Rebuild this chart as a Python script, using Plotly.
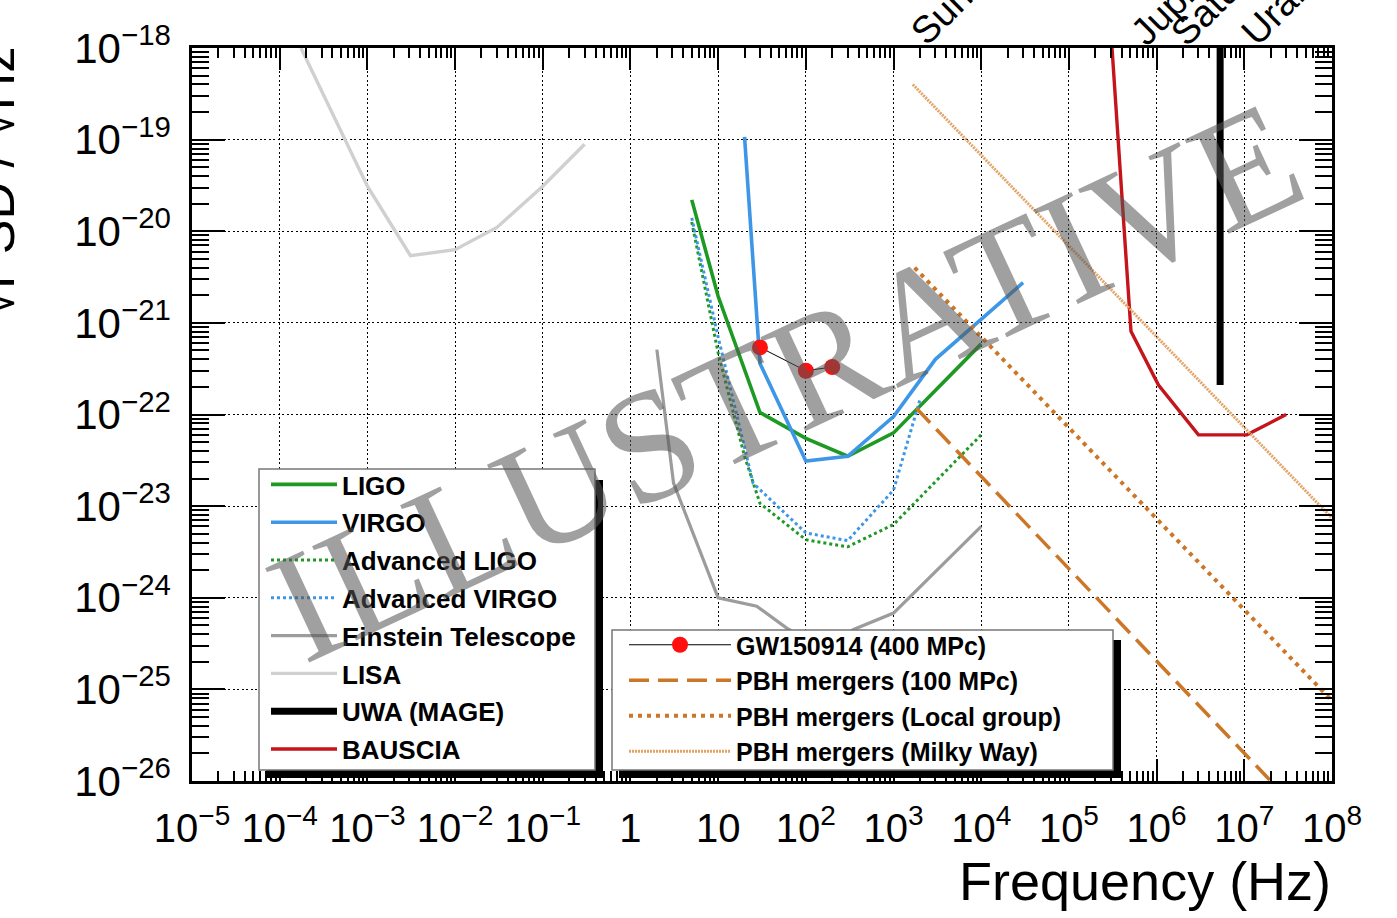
import plotly.graph_objects as go

# ---------------- data (frequency in Hz, sqrt(PSD) in 1/sqrt(Hz)) ----------------
lisa_f = [1.75e-4, 1e-3, 3.1e-3, 1e-2, 3e-2, 0.1, 0.3]
lisa_h = [1.0e-18, 3.1e-20, 5.4e-21, 6.3e-21, 1.1e-20, 3.1e-20, 8.9e-20]

ligo_f = [5, 10, 30, 100, 300, 1000, 10000]
ligo_h = [2.2e-20, 1.95e-21, 1.05e-22, 5.5e-23, 3.5e-23, 6.3e-23, 5.9e-22]

virgo_f = [20, 30, 100, 300, 1000, 3000, 30000]
virgo_h = [1.07e-19, 3.6e-22, 3.1e-23, 3.5e-23, 9.5e-23, 4.0e-22, 2.75e-21]

aligo_f = [5, 10, 20, 30, 100, 300, 1000, 10000]
aligo_h = [1.26e-20, 4.7e-22, 3.5e-23, 1.07e-23, 4.3e-24, 3.6e-24, 6.3e-24, 6.0e-23]

avirgo_f = [5, 10, 25, 100, 300, 1000, 2000]
avirgo_h = [1.4e-20, 7.0e-22, 1.78e-23, 5.1e-24, 4.2e-24, 1.5e-23, 1.45e-22]

et_f = [2, 3.1, 10, 27.5, 60, 150, 350, 1000, 10000]
et_h = [5.1e-22, 1.78e-23, 1.0e-24, 8.1e-25, 4.7e-25, 2.8e-25, 4.5e-25, 6.8e-25, 6.0e-24]

uwa_f = [5.3e6, 5.3e6]
uwa_h = [1.0e-18, 2.1e-22]

bauscia_f = [3.1e5, 5.1e5, 1.05e6, 3.0e6, 1.07e7, 3.0e7]
bauscia_h = [1.0e-18, 8.1e-22, 2.1e-22, 6.0e-23, 6.0e-23, 1.0e-22]

gw_f = [30, 100, 200]
gw_h = [5.4e-22, 3.0e-22, 3.3e-22]

pbh100_f = [1.82e3, 2.0e7]
pbh100_h = [1.17e-22, 1.0e-26]

pbhlg_f = [1.74e3, 9.5e7]
pbhlg_h = [4.0e-21, 7.9e-26]

pbhmw_f = [1.66e3, 1.0e8]
pbhmw_h = [4.0e-19, 7.4e-24]

x_tickvals = [10.0 ** k for k in range(-5, 9)]
x_ticktext = ["10<sup>\u22125</sup>", "10<sup>\u22124</sup>", "10<sup>\u22123</sup>",
              "10<sup>\u22122</sup>", "10<sup>\u22121</sup>", "1", "10",
              "10<sup>2</sup>", "10<sup>3</sup>", "10<sup>4</sup>", "10<sup>5</sup>",
              "10<sup>6</sup>", "10<sup>7</sup>", "10<sup>8</sup>"]
y_tickvals = [10.0 ** k for k in range(-26, -17)]
y_ticktext = ["10<sup>\u2212%d</sup>" % (-k) for k in range(-26, -17)]

planet_labels = ["Sun", "Jupiter", "Saturn", "Uranus"]

# ---------------- styling ----------------
GREEN = "#1e9a24"
BLUE = "#3d97e6"
ORANGE = "#cc7628"
FONT = "Liberation Sans"

W, H = 1397, 918
ML, MR, MT, MB = 192, 65, 48, 137
PW, PH = W - ML - MR, H - MT - MB


def px(x):
    return (x - ML) / PW


def py(y):
    return (H - MB - y) / PH


fig = go.Figure()


def add(name, f, h, color, width, dash="solid", legend="legend", mode="lines", marker=None):
    fig.add_trace(go.Scatter(
        x=f, y=h, name=name, mode=mode,
        line=dict(color=color, width=width, dash=dash),
        marker=marker, legend=legend, legendgroup=name,
        hoverinfo="skip"))


add("LIGO", ligo_f, ligo_h, GREEN, 3.6)
add("VIRGO", virgo_f, virgo_h, BLUE, 3.6)
add("Advanced LIGO", aligo_f, aligo_h, GREEN, 3, dash="3px,3px")
add("Advanced VIRGO", avirgo_f, avirgo_h, BLUE, 3, dash="3px,3px")
add("Einstein Telescope", et_f, et_h, "#9c9c9c", 3.2)
add("LISA", lisa_f, lisa_h, "#d0d0d0", 3.4)
add("UWA (MAGE)", uwa_f, uwa_h, "black", 7)
add("BAUSCIA", bauscia_f, bauscia_h, "#c4141c", 3.4)

add("GW150914 (400 MPc)", gw_f, gw_h, "black", 1, legend="legend2", mode="lines+markers",
    marker=dict(color="#ff1010", size=16, line=dict(width=0)))
add("PBH mergers (100 MPc)", pbh100_f, pbh100_h, ORANGE, 3.5, dash="20px,9px", legend="legend2")
add("PBH mergers (Local group)", pbhlg_f, pbhlg_h, ORANGE, 4, dash="4px,5px", legend="legend2")
add("PBH mergers (Milky Way)", pbhmw_f, pbhmw_h, "#e3a468", 3, dash="2px,1px", legend="legend2")

axis_common = dict(
    type="log", showline=True, linecolor="black", linewidth=2.5, mirror="allticks",
    ticks="inside", tickcolor="black", tickwidth=1.5,
    showgrid=True, gridcolor="black", gridwidth=1.2, griddash="2px,2.5px",
    zeroline=False, automargin=False, tickmode="array",
    ticklabelstandoff=10,
)

x_minor = [m * 10.0 ** k for k in range(-5, 8) for m in range(2, 10)]
y_minor = [m * 10.0 ** k for k in range(-26, -18) for m in range(2, 10)]

fig.update_xaxes(range=[-5, 8], tickvals=x_tickvals, ticktext=x_ticktext, ticklen=22,
                 tickfont=dict(family=FONT, size=40, color="black"),
                 minor=dict(tickmode="array", tickvals=x_minor, ticks="inside", ticklen=10,
                            tickwidth=1.5, tickcolor="black", showgrid=False),
                 **axis_common)
fig.update_yaxes(range=[-26, -18], tickvals=y_tickvals, ticktext=y_ticktext, ticklen=33,
                 tickfont=dict(family=FONT, size=42, color="black"),
                 minor=dict(tickmode="array", tickvals=y_minor, ticks="inside", ticklen=17,
                            tickwidth=1.5, tickcolor="black", showgrid=False),
                 **axis_common)

fig.update_layout(
    width=W, height=H, template="none",
    margin=dict(l=ML, r=MR, t=MT, b=MB, autoexpand=False),
    paper_bgcolor="white", plot_bgcolor="white",
    showlegend=True,
    legend=dict(x=px(266), y=py(461), xanchor="left", yanchor="top",
                bgcolor="rgba(0,0,0,0)", borderwidth=0,
                font=dict(family=FONT, size=26, color="black", weight="bold"),
                itemwidth=66, tracegroupgap=1, traceorder="grouped"),
    legend2=dict(x=px(624), y=py(622), xanchor="left", yanchor="top",
                 bgcolor="rgba(0,0,0,0)", borderwidth=0,
                 font=dict(family=FONT, size=25, color="black", weight="bold"),
                 itemwidth=102, tracegroupgap=0, traceorder="grouped"),
)

# legend frames and drop shadows (ROOT style)
for (x0, x1, y0, y1) in [(595, 603, 480, 778), (266, 603, 770, 778),
                         (1113, 1121, 640, 778), (619, 1121, 770, 778)]:
    fig.add_shape(type="rect", xref="paper", yref="paper", x0=px(x0), x1=px(x1),
                  y0=py(y1), y1=py(y0), fillcolor="black", line=dict(width=0), layer="above")
for (x0, x1, y0, y1) in [(259, 595, 469, 770), (612, 1113, 630, 770)]:
    fig.add_shape(type="rect", xref="paper", yref="paper", x0=px(x0), x1=px(x1),
                  y0=py(y1), y1=py(y0), fillcolor="white", line=dict(width=1.5, color="#777"),
                  layer="above")

annotations = []
# axis titles
annotations.append(dict(text="Frequency (Hz)", xref="paper", yref="paper", x=px(1333), y=py(849),
                        xanchor="right", yanchor="top", showarrow=False,
                        font=dict(family=FONT, size=54, color="black")))
annotations.append(dict(text="\u221aPSD / \u221aHz", xref="paper", yref="paper", x=px(27), y=py(45),
                        xanchor="right", yanchor="top", textangle=-90, showarrow=False,
                        font=dict(family=FONT, size=52, color="black")))
# planet labels on top
for lab, xl in zip(planet_labels, [900, 1120, 1160, 1230]):
    annotations.append(dict(text=lab, xref="paper", yref="paper", x=px(xl), y=py(56),
                            xanchor="left", yanchor="bottom", textangle=-45, showarrow=False,
                            font=dict(family=FONT, size=38, color="black")))
# watermark
annotations.append(dict(text="ILLUSTRATIVE", xref="paper", yref="paper", x=px(785), y=py(381),
                        xanchor="center", yanchor="middle", textangle=-25, showarrow=False,
                        font=dict(family="Liberation Serif", size=159, color="rgba(85,85,85,0.56)")))
fig.update_layout(annotations=annotations)

fig.write_html("out.html")
